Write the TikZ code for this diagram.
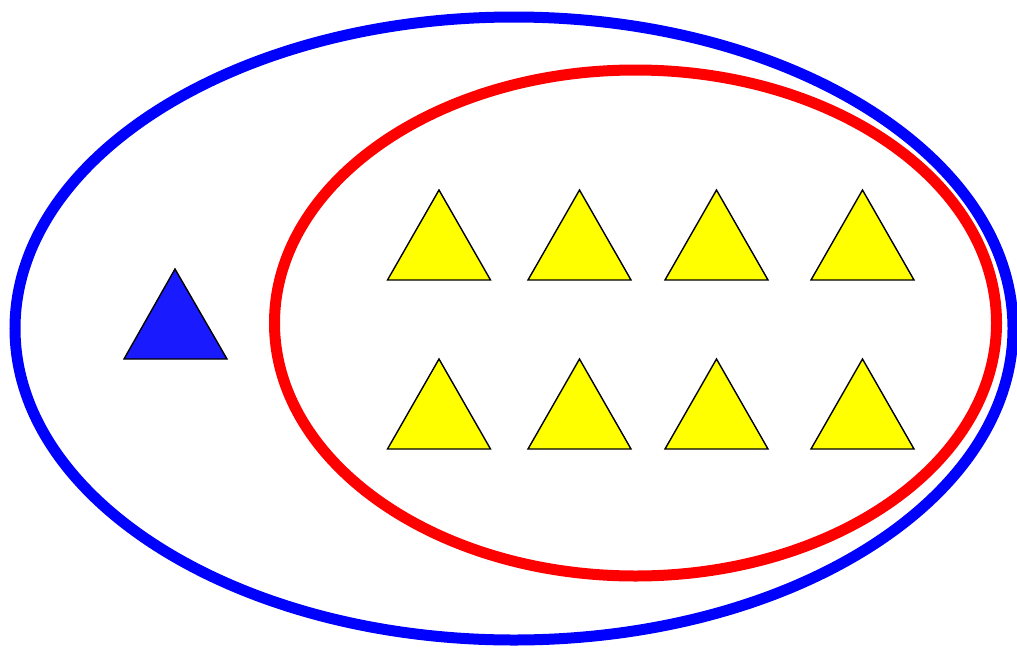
\documentclass[tikz,border=0pt]{standalone}
\begin{document}
\begin{tikzpicture}[x=1pt,y=-1pt,
  ring/.style={line width=11pt},
  tri/.style={draw=black,line width=1.4pt,line join=miter},
  ytri/.style={tri,fill={rgb,255:red,255;green,255;blue,0}},
  btri/.style={tri,fill={rgb,255:red,26;green,26;blue,255}}]
\useasboundingbox (0,0) rectangle (1017,651);
\draw[ring,draw={rgb,255:red,0;green,0;blue,255}] (514,328.5) ellipse [x radius=499,y radius=311.5];
\draw[ring,draw={rgb,255:red,255;green,0;blue,0}] (635.5,323) ellipse [x radius=361,y radius=253];
\draw[btri] (175,269) -- (227,359) -- (124,359) -- cycle;
\foreach \cx in {439,579.5,716.5,862.5}{
  \draw[ytri] (\cx,190) -- (\cx+51.5,280) -- (\cx-51.5,280) -- cycle;
  \draw[ytri] (\cx,359) -- (\cx+51.5,449) -- (\cx-51.5,449) -- cycle;
}
\end{tikzpicture}
\end{document}
